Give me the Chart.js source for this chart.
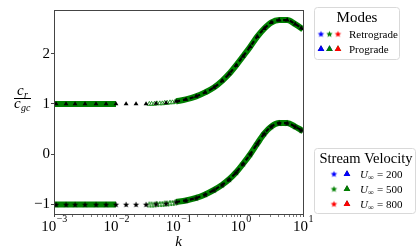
<!DOCTYPE html>
<html>
<head>
<meta charset="utf-8">
<script src="https://cdn.jsdelivr.net/npm/chart.js@4.4.0/dist/chart.umd.min.js"></script>
<style>
html, body { margin: 0; padding: 0; background: #fff; }
</style>
</head>
<body>
<canvas id="myChart" width="420" height="252"></canvas>
<script>
// Wavenumbers where the markers sit
var kMark = [0.00108, 0.00156, 0.00218, 0.00315, 0.00473, 0.00686, 0.0099, 0.0144, 0.0208, 0.0301,
             0.0436, 0.0632, 0.0915, 0.132, 0.192, 0.268, 0.373, 0.502, 0.651, 0.844,
             1.09, 1.42, 1.84, 2.38, 3.08, 4.14, 5.57, 7.49, 9.35];
// c_r / c_gc for each mode
var prograde = [1, 1, 1, 1, 1, 1, 1, 1, 1, 1,
                1.01, 1.02, 1.05, 1.09, 1.15, 1.23, 1.33, 1.46, 1.60, 1.77,
                1.95, 2.14, 2.34, 2.50, 2.62, 2.67, 2.67, 2.59, 2.51];
var retrograde = [-1, -1, -1, -1, -1, -1, -1, -1, -1, -1,
                  -0.99, -0.98, -0.95, -0.92, -0.87, -0.80, -0.71, -0.61, -0.50, -0.36,
                  -0.19, 0.00, 0.21, 0.41, 0.55, 0.62, 0.62, 0.55, 0.48];
// curve end points
var kEnds = [0.001, 10];
var progradeEnds = [1, 2.48];
var retrogradeEnds = [-1, 0.46];
// the dense hollow green markers around k ~ 0.03-0.1
var kHollow = [0.034, 0.037, 0.041, 0.045, 0.05, 0.055, 0.06, 0.066, 0.073, 0.08, 0.088];
var progradeHollow = [1, 1, 1, 1.01, 1.01, 1.01, 1.02, 1.02, 1.03, 1.03, 1.04];
var retrogradeHollow = [-1, -1, -1, -0.99, -0.99, -0.99, -0.98, -0.98, -0.97, -0.97, -0.96];

var xMajor = [0.001, 0.01, 0.1, 1, 10];
var xExponents = ['\u22123', '\u22122', '\u22121', '0', '1'];
var yTicks = [-1, 0, 1, 2];
var yTickLabels = ['\u22121', '0', '1', '2'];

var speeds = ['200', '500', '800'];
var speedColors = ['#0000ff', '#008000', '#ff0000'];
var modeNames = ['Retrograde', 'Prograde'];

var GREEN = '#008000';
var SERIF = '"Liberation Serif", "DejaVu Serif", serif';

function starCanvas(r, fill, stroke) {
    var s = Math.ceil(r * 2 + 2);
    var c = document.createElement('canvas');
    c.width = s; c.height = s;
    var g = c.getContext('2d');
    g.beginPath();
    for (var i = 0; i < 10; i++) {
        var rr = i % 2 ? r * 0.45 : r;
        var a = -Math.PI / 2 + i * Math.PI / 5;
        g.lineTo(s / 2 + rr * Math.cos(a), s / 2 + rr * Math.sin(a) + 0.3);
    }
    g.closePath();
    g.fillStyle = fill;
    g.fill();
    if (stroke) { g.strokeStyle = stroke; g.lineWidth = 0.8; g.stroke(); }
    return c;
}

function pts(ks, vs) {
    return ks.map(function(k, i) { return { x: k, y: vs[i] }; });
}
// full curve: ends + marker points, with a gap between k=0.01 and the hollow markers
function greenCurve(vals, ends) {
    var out = [{ x: kEnds[0], y: ends[0] }];
    kMark.forEach(function(k, i) {
        out.push({ x: k, y: (k > 0.011 && k < 0.09) ? null : vals[i] });
    });
    out.push({ x: kEnds[1], y: ends[1] });
    return out;
}
function dashedCurve(vals, ends) {
    var out = [];
    kMark.forEach(function(k, i) { if (k > 0.09) out.push({ x: k, y: vals[i] }); });
    out.push({ x: kEnds[1], y: ends[1] });
    return out;
}

var blackStar = starCanvas(3.2, '#000');
var hollowStar = starCanvas(3, 'rgba(255,255,255,0.6)', GREEN);

var datasets = [
    { data: pts(kMark, prograde), showLine: false, pointStyle: 'triangle', pointRadius: 2.8,
      backgroundColor: '#000', borderColor: '#000', borderWidth: 0, order: 1 },
    { data: pts(kMark, retrograde), showLine: false, pointStyle: blackStar, pointRadius: 3,
      backgroundColor: '#000', borderColor: '#000', order: 1 },
    { data: dashedCurve(prograde, progradeEnds), showLine: true, pointRadius: 0,
      borderColor: '#000', borderWidth: 2.2, borderDash: [4, 3], cubicInterpolationMode: 'monotone', order: 2 },
    { data: dashedCurve(retrograde, retrogradeEnds), showLine: true, pointRadius: 0,
      borderColor: '#000', borderWidth: 2.2, borderDash: [4, 3], cubicInterpolationMode: 'monotone', order: 2 },
    { data: pts(kHollow, progradeHollow), showLine: false, pointStyle: 'triangle', pointRadius: 2.6,
      backgroundColor: 'rgba(255,255,255,0.6)', borderColor: GREEN, borderWidth: 0.8, order: 3 },
    { data: pts(kHollow, retrogradeHollow), showLine: false, pointStyle: hollowStar, pointRadius: 3,
      order: 3 },
    { data: greenCurve(prograde, progradeEnds), showLine: true, pointRadius: 0, spanGaps: false,
      borderColor: GREEN, borderWidth: 6, cubicInterpolationMode: 'monotone', order: 5 },
    { data: greenCurve(retrograde, retrogradeEnds), showLine: true, pointRadius: 0, spanGaps: false,
      borderColor: GREEN, borderWidth: 6, cubicInterpolationMode: 'monotone', order: 5 }
];

function roundBox(ctx, x, y, w, h, r) {
    ctx.beginPath();
    ctx.moveTo(x + r, y);
    ctx.arcTo(x + w, y, x + w, y + h, r);
    ctx.arcTo(x + w, y + h, x, y + h, r);
    ctx.arcTo(x, y + h, x, y, r);
    ctx.arcTo(x, y, x + w, y, r);
    ctx.closePath();
    ctx.fillStyle = 'rgba(255,255,255,0.85)';
    ctx.fill();
    ctx.strokeStyle = '#d9d9d9';
    ctx.lineWidth = 1;
    ctx.stroke();
}

function drawStar(ctx, x, y, color) {
    var img = starCanvas(3.4, color);
    ctx.drawImage(img, x - img.width / 2, y - img.height / 2);
}
function drawTri(ctx, x, y, color) {
    Chart.helpers.drawPoint(ctx, { pointStyle: 'triangle', radius: 3.8, borderWidth: 0 }, x, y);
    ctx.fillStyle = color;
    ctx.fill();
}

var decorations = {
    id: 'decorations',
    afterDraw: function(chart) {
        var ctx = chart.ctx;
        var a = chart.chartArea;
        ctx.save();

        // frame
        ctx.strokeStyle = '#444';
        ctx.lineWidth = 1;
        ctx.strokeRect(Math.round(a.left) + 0.5, Math.round(a.top) + 0.5,
                       Math.round(a.right - a.left), Math.round(a.bottom - a.top));

        // x tick labels 10^n
        var xs = chart.scales.x;
        ctx.fillStyle = '#000';
        ctx.textBaseline = 'alphabetic';
        ctx.textAlign = 'left';
        xMajor.forEach(function(v, i) {
            var px = xs.getPixelForValue(v);
            ctx.font = '15px ' + SERIF;
            var w1 = ctx.measureText('10').width;
            ctx.font = '10px ' + SERIF;
            var w2 = ctx.measureText(xExponents[i]).width;
            var x0 = px - (w1 + w2) / 2;
            ctx.font = '15px ' + SERIF;
            ctx.fillText('10', x0, 231);
            ctx.font = '10px ' + SERIF;
            ctx.fillText(xExponents[i], x0 + w1 + 0.5, 222);
        });

        // x title
        ctx.textAlign = 'center';
        ctx.font = 'italic 15px ' + SERIF;
        ctx.fillText('k', (a.left + a.right) / 2, 246);

        // y title as a fraction c_r / c_gc
        ctx.textAlign = 'left';
        ctx.font = 'italic 15px ' + SERIF;
        ctx.fillText('c', 17, 95);
        ctx.font = 'italic 10px ' + SERIF;
        ctx.fillText('r', 24, 98);
        ctx.fillRect(14, 98, 17, 1);
        ctx.font = 'italic 15px ' + SERIF;
        ctx.fillText('c', 14, 108);
        ctx.font = 'italic 10px ' + SERIF;
        ctx.fillText('gc', 21, 111);

        // legend: Modes
        roundBox(ctx, 314.5, 7.5, 85, 52, 3);
        ctx.fillStyle = '#000';
        ctx.textAlign = 'center';
        ctx.font = '15px ' + SERIF;
        ctx.fillText('Modes', 357, 22);
        ctx.textAlign = 'left';
        ctx.font = '11px ' + SERIF;
        modeNames.forEach(function(name, r) {
            var yy = 34 + r * 15;
            speedColors.forEach(function(c, j) {
                var xx = 321 + j * 8.5;
                if (r === 0) drawStar(ctx, xx, yy, c); else drawTri(ctx, xx, yy, c);
            });
            ctx.fillStyle = '#000';
            ctx.fillText(name, 349, yy + 4);
        });

        // legend: Stream Velocity
        roundBox(ctx, 314.5, 148.5, 101, 65, 3);
        ctx.fillStyle = '#000';
        ctx.textAlign = 'center';
        ctx.font = '14.5px ' + SERIF;
        ctx.fillText('Stream Velocity', 366, 163);
        ctx.textAlign = 'left';
        speeds.forEach(function(s, r) {
            var yy = 174 + r * 15;
            drawStar(ctx, 334, yy, speedColors[r]);
            drawTri(ctx, 347, yy, speedColors[r]);
            ctx.fillStyle = '#000';
            ctx.font = 'italic 11px ' + SERIF;
            ctx.fillText('U', 360, yy + 4);
            var wu = ctx.measureText('U').width;
            ctx.font = '8px ' + SERIF;
            ctx.fillText('\u221e', 360 + wu, yy + 6);
            ctx.font = '11px ' + SERIF;
            ctx.fillText('= ' + s, 360 + wu + 9, yy + 4);
        });

        ctx.restore();
    }
};

var ctx = document.getElementById('myChart').getContext('2d');
var myChart = new Chart(ctx, {
    type: 'scatter',
    data: { datasets: datasets },
    options: {
        responsive: false,
        animation: false,
        layout: { padding: { left: 0, top: 7, right: 117, bottom: 0 } },
        plugins: { legend: { display: false }, tooltip: { enabled: false } },
        scales: {
            x: {
                type: 'logarithmic',
                min: 0.001,
                max: 10,
                afterBuildTicks: function(scale) {
                    var t = [];
                    xMajor.forEach(function(v, i) {
                        t.push({ value: v, major: true });
                        if (i < xMajor.length - 1) {
                            for (var m = 2; m <= 9; m++) t.push({ value: v * m, major: false });
                        }
                    });
                    scale.ticks = t;
                },
                afterFit: function(scale) { scale.height = 38; },
                grid: {
                    drawOnChartArea: false,
                    drawTicks: true,
                    tickLength: 3,
                    tickColor: '#444',
                    tickWidth: function(c) { return c.tick && c.tick.major ? 1 : 0.7; }
                },
                border: { display: false },
                ticks: { display: false, autoSkip: false }
            },
            y: {
                min: -1.19,
                max: 2.87,
                afterBuildTicks: function(scale) {
                    scale.ticks = yTicks.map(function(v) { return { value: v }; });
                },
                afterFit: function(scale) { scale.width = 54; },
                grid: { drawOnChartArea: false, tickLength: 3, tickColor: '#444' },
                border: { display: false },
                ticks: {
                    padding: 1,
                    color: '#000',
                    font: { family: SERIF, size: 15 },
                    callback: function(value, index) { return yTickLabels[index]; }
                }
            }
        }
    },
    plugins: [decorations]
});
</script>
</body>
</html>
